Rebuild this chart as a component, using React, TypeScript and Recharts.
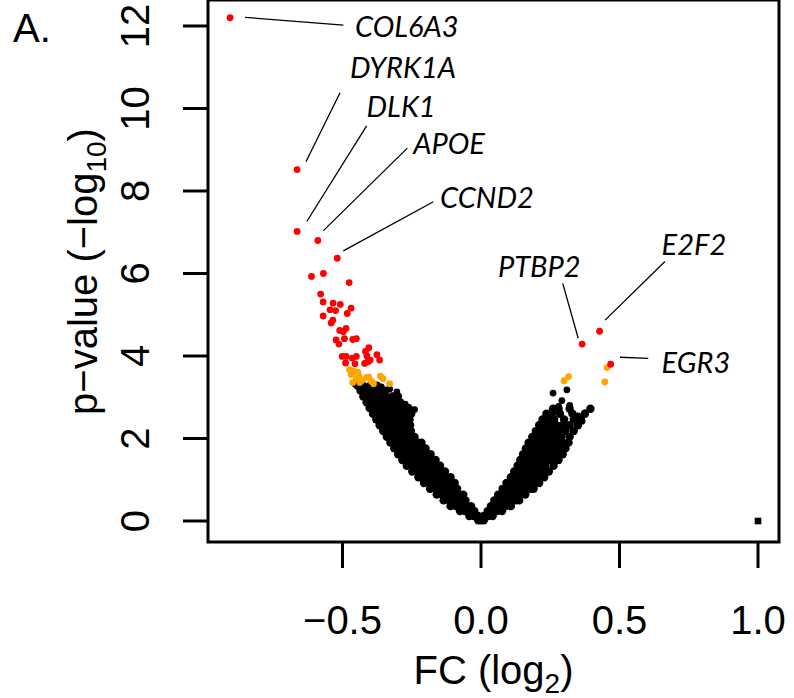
import React from 'react';
import { ScatterChart, Scatter, XAxis, YAxis, ReferenceArea, ReferenceLine } from 'recharts';

const SANS = '"Liberation Sans", Arial, Helvetica, sans-serif';
const GENE_FONT = 'Lato, "Open Sans", sans-serif';

const xTicks = [-0.5, 0, 0.5, 1];
const yTicks = [0, 2, 4, 6, 8, 10, 12];
const xDomain: [number, number] = [-0.9856, 1.0758];
const yDomain: [number, number] = [-0.509, 12.63];

// black cloud, left arm: [y, x values across the band]
const leftArmRows: [number, number[]][] = [
  [0.02, [-0.01, 0.0, 0.01]],
  [0.12, [-0.042, -0.026, -0.01]],
  [0.24, [-0.076, -0.058, -0.04, -0.024]],
  [0.36, [-0.11, -0.09, -0.07, -0.052, -0.036]],
  [0.5, [-0.135, -0.115, -0.095, -0.075, -0.056]],
  [0.64, [-0.16, -0.14, -0.12, -0.1, -0.08, -0.064]],
  [0.78, [-0.184, -0.164, -0.144, -0.124, -0.104, -0.086]],
  [0.92, [-0.206, -0.186, -0.166, -0.146, -0.126, -0.106, -0.095]],
  [1.06, [-0.226, -0.206, -0.186, -0.166, -0.146, -0.126, -0.11]],
  [1.2, [-0.248, -0.228, -0.208, -0.188, -0.168, -0.148, -0.13]],
  [1.34, [-0.268, -0.248, -0.228, -0.208, -0.188, -0.168, -0.148]],
  [1.48, [-0.284, -0.264, -0.244, -0.224, -0.204, -0.184, -0.164]],
  [1.62, [-0.299, -0.279, -0.259, -0.239, -0.219, -0.199, -0.182]],
  [1.76, [-0.313, -0.293, -0.273, -0.253, -0.233, -0.213, -0.2]],
  [1.9, [-0.327, -0.307, -0.287, -0.267, -0.247, -0.227, -0.215]],
  [2.04, [-0.34, -0.32, -0.3, -0.28, -0.26, -0.24]],
  [2.18, [-0.353, -0.333, -0.313, -0.293, -0.273, -0.253]],
  [2.32, [-0.366, -0.346, -0.326, -0.306, -0.286, -0.266, -0.256]],
  [2.46, [-0.378, -0.358, -0.338, -0.318, -0.298, -0.278, -0.258]],
  [2.6, [-0.39, -0.37, -0.35, -0.33, -0.31, -0.29, -0.27, -0.252]],
  [2.74, [-0.402, -0.382, -0.362, -0.342, -0.322, -0.302, -0.282, -0.262]],
  [2.88, [-0.413, -0.393, -0.373, -0.353, -0.333, -0.313, -0.292]],
  [3.02, [-0.425, -0.405, -0.385, -0.365, -0.345, -0.32, -0.3]],
  [3.16, [-0.435, -0.415, -0.392, -0.37, -0.345]],
  [3.28, [-0.445, -0.425, -0.4, -0.375]],
];

// black cloud, right arm
const rightArmRows: [number, number[]][] = [
  [0.12, [0.01, 0.026, 0.042]],
  [0.24, [0.024, 0.04, 0.058, 0.076]],
  [0.36, [0.036, 0.052, 0.07, 0.09, 0.108]],
  [0.5, [0.048, 0.066, 0.086, 0.106, 0.126, 0.138]],
  [0.64, [0.062, 0.08, 0.1, 0.12, 0.14, 0.16]],
  [0.78, [0.078, 0.098, 0.118, 0.138, 0.158, 0.178, 0.19]],
  [0.92, [0.092, 0.112, 0.132, 0.152, 0.172, 0.192, 0.21]],
  [1.06, [0.108, 0.128, 0.148, 0.168, 0.188, 0.208, 0.228]],
  [1.2, [0.12, 0.14, 0.16, 0.18, 0.2, 0.22, 0.245]],
  [1.34, [0.132, 0.152, 0.172, 0.192, 0.212, 0.232, 0.262]],
  [1.48, [0.142, 0.162, 0.182, 0.202, 0.222, 0.242, 0.262, 0.28]],
  [1.62, [0.152, 0.172, 0.192, 0.212, 0.232, 0.252, 0.272, 0.295]],
  [1.76, [0.162, 0.182, 0.202, 0.222, 0.242, 0.262, 0.284, 0.305]],
  [1.9, [0.172, 0.192, 0.212, 0.232, 0.252, 0.274, 0.298, 0.316]],
  [2.04, [0.185, 0.205, 0.225, 0.245, 0.265, 0.29, 0.32]],
  [2.18, [0.198, 0.218, 0.238, 0.258, 0.28, 0.305, 0.335]],
  [2.32, [0.21, 0.23, 0.25, 0.272, 0.295, 0.32, 0.35]],
  [2.46, [0.222, 0.242, 0.264, 0.3, 0.335, 0.36]],
  [2.6, [0.236, 0.256, 0.285, 0.33, 0.375]],
  [2.72, [0.26, 0.28, 0.32, 0.395]],
];

// loose black points at the top of both arms: [x, y]
const blackOutliers: [number, number][] = [
  [-0.304, 3.13], [-0.31, 2.95], [-0.274, 2.83], [-0.24, 2.7], [-0.455, 3.32],
  [-0.36, 3.25], [-0.33, 3.2],
  [0.31, 3.18], [0.26, 3.1], [0.292, 2.92], [0.32, 2.8], [0.28, 2.78],
  [0.395, 2.72], [0.377, 2.62], [0.256, 2.66], [0.35, 2.55], [0.365, 2.42],
];

// orange points [x, y]
const orangePoints: [number, number][] = [
  [-0.475, 3.67], [-0.46, 3.63], [-0.445, 3.61], [-0.469, 3.55], [-0.441, 3.51],
  [-0.405, 3.49], [-0.429, 3.41], [-0.463, 3.36], [-0.438, 3.36], [-0.363, 3.51],
  [-0.354, 3.45], [-0.33, 3.33], [-0.388, 3.33], [-0.396, 3.39], [-0.413, 3.48],
  [-0.45, 3.45],
  [0.455, 3.72], [0.447, 3.37], [0.316, 3.5], [0.3, 3.4],
];

// red points [x, y]
const redPoints: [number, number][] = [
  [-0.906, 12.2], [-0.664, 8.52], [-0.664, 7.02], [-0.589, 6.8], [-0.519, 6.37],
  [-0.612, 5.93], [-0.569, 6.0], [-0.476, 5.78], [-0.579, 5.5], [-0.57, 5.31],
  [-0.534, 5.28], [-0.508, 5.25], [-0.469, 5.16], [-0.545, 5.12], [-0.525, 5.1],
  [-0.483, 5.03], [-0.57, 4.97], [-0.535, 4.87], [-0.541, 4.8], [-0.51, 4.62],
  [-0.487, 4.67], [-0.497, 4.59], [-0.493, 4.42], [-0.523, 4.39], [-0.513, 4.29],
  [-0.463, 4.4], [-0.45, 4.42], [-0.501, 3.99], [-0.487, 3.99], [-0.465, 3.95],
  [-0.45, 3.99], [-0.489, 3.83], [-0.417, 4.11], [-0.405, 4.2], [-0.412, 4.0],
  [-0.42, 3.82], [-0.408, 3.86], [-0.376, 4.03], [-0.366, 3.9], [-0.4, 3.9],
  [-0.455, 3.81],
  [0.365, 4.29], [0.428, 4.6], [0.468, 3.8],
];

// square marker
const squarePoints: [number, number][] = [[1.0, 0]];

// gene labels: text anchor (left, baseline) and leader line ends
const geneNames = ['COL6A3', 'DYRK1A', 'DLK1', 'APOE', 'CCND2', 'PTBP2', 'E2F2', 'EGR3'];
const labelAnchors: [number, number][] = [
  [-0.455, 11.73], [-0.473, 10.73], [-0.413, 9.8], [-0.245, 8.9],
  [-0.148, 7.59], [0.061, 5.92], [0.652, 6.45], [0.652, 3.59],
];
const leaderLines: [number, number, number, number][] = [
  [-0.852, 12.21, -0.497, 12.02],
  [-0.509, 10.38, -0.632, 8.71],
  [-0.413, 9.58, -0.629, 7.26],
  [-0.266, 9.04, -0.569, 7.04],
  [-0.172, 7.74, -0.497, 6.55],
  [0.295, 5.76, 0.351, 4.43],
  [0.664, 6.29, 0.448, 4.87],
  [0.502, 3.97, 0.604, 3.94],
];

const cloudData = [
  ...leftArmRows.flatMap(([y, xs]) => xs.map((x) => ({ x, y }))),
  ...rightArmRows.flatMap(([y, xs]) => xs.map((x) => ({ x, y }))),
];
const outlierData = blackOutliers.map(([x, y]) => ({ x, y }));
const orangeData = orangePoints.map(([x, y]) => ({ x, y }));
const redData = redPoints.map(([x, y]) => ({ x, y }));
const squareData = squarePoints.map(([x, y]) => ({ x, y }));
const labelData = geneNames.map((gene, i) => ({ x: labelAnchors[i][0], y: labelAnchors[i][1], gene }));

const dot = (color: string, r = 3.4) => (props: any) => (
  <circle cx={props.cx} cy={props.cy} r={r} fill={color} />
);

const squareShape = (props: any) => (
  <rect x={props.cx - 3.3} y={props.cy - 3.3} width={6.6} height={6.6} fill="#000" />
);

const geneText = (props: any) => (
  <text
    x={props.cx}
    y={props.cy}
    fontFamily={GENE_FONT}
    fontStyle="italic"
    fontSize={29}
    fill="#000"
  >
    {props.payload.gene}
  </text>
);

const fmtX = (v: number) => (v < 0 ? '\u2212' + Math.abs(v).toFixed(1) : v.toFixed(1));

const XTick = ({ x, payload }: any) => (
  <text x={x} y={634} textAnchor="middle" fontSize={40} fontFamily={SANS} fill="#000">
    {fmtX(payload.value)}
  </text>
);

const YTick = ({ y, payload }: any) => (
  <text
    transform={`translate(135, ${y}) rotate(-90)`}
    textAnchor="middle"
    dominantBaseline="central"
    fontSize={40}
    fontFamily={SANS}
    fill="#000"
  >
    {payload.value}
  </text>
);

export default function App() {
  return (
    <div style={{ position: 'absolute', left: 0, top: 0, width: 794, height: 698, background: '#fff' }}>
      <ScatterChart width={794} height={698} margin={{ top: 0, right: 15, bottom: 0, left: 0 }}>
        <XAxis
          type="number"
          dataKey="x"
          domain={xDomain}
          ticks={xTicks}
          allowDataOverflow
          height={156}
          axisLine={false}
          tickSize={26}
          tickLine={{ stroke: '#000', strokeWidth: 3 }}
          tick={<XTick />}
        />
        <YAxis
          type="number"
          dataKey="y"
          domain={yDomain}
          ticks={yTicks}
          allowDataOverflow
          width={208}
          axisLine={false}
          tickSize={25}
          tickLine={{ stroke: '#000', strokeWidth: 3 }}
          tick={<YTick />}
        />
        {leaderLines.map(([x1, y1, x2, y2], i) => (
          <ReferenceLine
            key={i}
            segment={[{ x: x1, y: y1 }, { x: x2, y: y2 }]}
            stroke="#000"
            strokeWidth={1.3}
            ifOverflow="visible"
          />
        ))}
        <Scatter data={cloudData} shape={dot('#000', 4.2)} isAnimationActive={false} />
        <Scatter data={outlierData} shape={dot('#000')} isAnimationActive={false} />
        <Scatter data={squareData} shape={squareShape} isAnimationActive={false} />
        <Scatter data={orangeData} shape={dot('#FFA500')} isAnimationActive={false} />
        <Scatter data={redData} shape={dot('#FF0000')} isAnimationActive={false} />
        <Scatter data={labelData} shape={geneText} isAnimationActive={false} />
        <ReferenceArea
          x1={xDomain[0]}
          x2={xDomain[1]}
          y1={yDomain[0]}
          y2={yDomain[1]}
          fill="none"
          fillOpacity={0}
          stroke="#000"
          strokeWidth={3}
          ifOverflow="visible"
        />
      </ScatterChart>
      <svg
        width={794}
        height={698}
        style={{ position: 'absolute', left: 0, top: 0, pointerEvents: 'none' }}
      >
        <text x={13} y={42} fontSize={40} fontFamily={SANS} fill="#000">A.</text>
        <text x={493.5} y={684} textAnchor="middle" fontSize={40} fontFamily={SANS} fill="#000">
          FC (log<tspan fontSize={28} dy={9}>2</tspan><tspan dy={-9}>)</tspan>
        </text>
        <text
          transform="translate(97, 271.5) rotate(-90)"
          textAnchor="middle"
          fontSize={40}
          fontFamily={SANS}
          fill="#000"
        >
          p{'\u2212'}value ({'\u2212'}log<tspan fontSize={28} dy={9}>10</tspan><tspan dy={-9}>)</tspan>
        </text>
      </svg>
    </div>
  );
}
